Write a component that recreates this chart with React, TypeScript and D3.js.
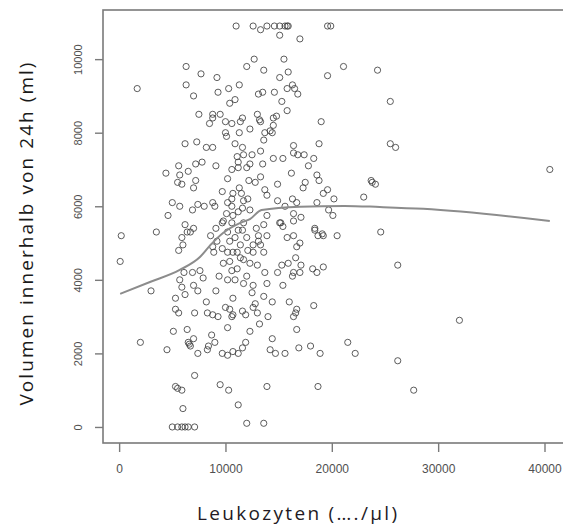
import * as d3 from 'd3';
import * as React from 'react';

const { useRef, useEffect } = React;

const width = 563;
const height = 526;
const plot = { left: 103, right: 567, top: 10, bottom: 443 };

// [Leukozyten (/µl), Volumen in 24h (ml)]
const beobachtungen: [number, number][] = [
  // oberer Bereich
  [11000, 10900], [12600, 10900], [13300, 10800], [13900, 10900], [14600, 10900], [15100, 10900],
  [15600, 10900], [15800, 10900], [15900, 10900], [19600, 10900], [19900, 10900],
  [15100, 10650], [17000, 10550],
  [1700, 9200], [6300, 9800], [7700, 9600], [9200, 9500], [6300, 9300], [7000, 9000], [9300, 9100],
  [10300, 9200], [11300, 9300], [12000, 9800], [10400, 8800], [10900, 8900],
  [7500, 8500], [8800, 8500], [9500, 8500], [8500, 8250], [8800, 8400], [10000, 8300], [10600, 8250],
  [11600, 8400], [11400, 8300], [13000, 8500], [13300, 8300], [13200, 8350], [14500, 8400], [14500, 8200],
  [10000, 8000], [10100, 7900], [11300, 8000], [12300, 8100], [13700, 8000], [14400, 8000],
  [6200, 7700], [7300, 7750], [8200, 7600], [8800, 7600], [10900, 7700], [11600, 7600], [13600, 7800],
  [12700, 10000], [13600, 9700], [15500, 10000], [15900, 9650], [15100, 9500], [19600, 9550],
  [21100, 9800], [24300, 9700],
  [16300, 9300], [15800, 9200], [16500, 9200], [16800, 9050], [13100, 9050], [13500, 9100],
  [14600, 9100], [15300, 8850], [15800, 8600],
  [14800, 8450], [14200, 8050], [19000, 8300], [16400, 7650], [18800, 7700], [25500, 8850],
  [25500, 7700], [26000, 7600],
  // 6000 - 7500
  [11100, 7350], [11700, 7400], [12500, 7400], [11200, 7200], [13500, 7150], [14500, 7300],
  [15400, 7300], [13300, 7500],
  [5600, 7100], [7800, 7200], [7200, 7150], [9100, 7100], [4400, 6900], [5700, 6850], [6500, 6950],
  [10600, 7000], [11200, 7050], [12000, 7050], [10200, 6750], [13300, 6800], [14900, 6600],
  [5500, 6650], [5900, 6600], [7200, 6700], [7000, 6500], [11300, 6500], [10700, 6350], [11500, 6350],
  [12200, 6700], [12800, 6650], [13900, 6300],
  [5000, 6100], [5700, 6000], [6900, 5900], [7400, 6050], [8000, 6000], [8800, 6100], [9000, 6000],
  [10200, 6100], [10100, 5800], [10600, 6000], [11600, 5950], [12300, 5900],
  [4600, 5750], [6200, 5500], [7000, 5400], [9800, 5600], [11200, 5850], [14900, 6150], [15200, 5550],
  [16400, 7450], [16800, 7400], [17400, 7400], [18300, 7300], [17800, 7100], [16200, 6900],
  [18600, 6850], [18800, 6700], [17500, 6650], [17300, 6500], [19200, 6350], [19600, 6450],
  [20200, 6200], [18600, 6100], [16300, 6200], [16700, 6100], [15600, 6000], [19700, 5900],
  [20100, 5750], [16400, 5800], [17100, 5700], [16400, 5600], [23000, 6250], [23700, 6700],
  [24100, 6600], [23800, 6650], [18400, 5400],
  [9700, 6400], [10600, 6200], [11700, 6150], [10700, 5750], [6700, 5300], [10600, 5550],
  [11200, 5350], [11700, 5550], [9200, 5050], [8800, 4900], [10400, 5050], [10900, 5150],
  [11400, 4950], [10700, 4750], [11400, 4600], [12100, 4800], [10600, 4250], [7000, 3850],
  [12300, 7150], [13700, 6450], [12100, 6200], [13900, 5750], [15400, 5450], [13100, 5050], [13600, 4750],
  // 3000 - 5500
  [8600, 5200], [9100, 5400], [9700, 5550], [10200, 5300], [9700, 4850], [8900, 4750], [10200, 4750],
  [10400, 4500], [9800, 4450], [11100, 4750], [11100, 4300], [11700, 4550], [12000, 5150],
  [12600, 4950], [12600, 4750], [13300, 4950], [13000, 4400], [12300, 4450], [13700, 4200],
  [13900, 5200], [13600, 5500], [15100, 5550], [15800, 5150], [15300, 4400], [14900, 4200],
  [12900, 5400], [13100, 5200], [11600, 5350],
  [6400, 5300], [5900, 5150], [5600, 4800], [6000, 4950], [6100, 4200], [6900, 4200], [5700, 4000],
  [7600, 4250], [7900, 4050], [7400, 3700], [5900, 3800], [6200, 3600], [5300, 3500], [5300, 3200],
  [5600, 3100], [7100, 3100], [8200, 3400], [8300, 3100], [8800, 3050], [9300, 3000], [9100, 3700],
  [9400, 4100], [10200, 4000], [10900, 4000], [10700, 3500], [10000, 3250], [10400, 3200],
  [10700, 3050], [10600, 3000], [11600, 3150], [11900, 3050], [12600, 3250], [13000, 3100],
  [12800, 3350], [12500, 3650], [11700, 3900], [12000, 4100], [12600, 3850], [13600, 3550],
  [14000, 3000], [14400, 3400], [13900, 3900], [15400, 3850], [16000, 3400],
  // unterer Bereich
  [10200, 2700], [12300, 2600], [13200, 2800], [11900, 2300], [11600, 2150], [11200, 2000],
  [10700, 2050], [10200, 1950], [9700, 2000], [9000, 2300], [8700, 2500], [8400, 2200], [8300, 2100],
  [7400, 2000], [7000, 2400], [6400, 2650], [6500, 2300], [6700, 2200], [6600, 2250], [5100, 2600],
  [14400, 2400], [14200, 2100], [14700, 2000], [15600, 2000],
  [7100, 1400], [5300, 1100], [5500, 1050], [5900, 1000], [9500, 1150], [10300, 1000], [13900, 1100],
  [6000, 500], [11200, 600], [12000, 100], [13600, 100],
  [5000, 0], [5500, 0], [5900, 0], [6200, 0], [6500, 0], [7100, 0],
  // links
  [200, 5200], [3500, 5300], [100, 4500], [3000, 3700], [2000, 2300], [4500, 2100],
  // rechts
  [24600, 5300], [20500, 5200], [18400, 5350], [19100, 5250], [19200, 5200], [18700, 5200],
  [16400, 5200], [17000, 5000], [16700, 4900], [16600, 4600], [15900, 4450], [17100, 4400],
  [18200, 4300], [18600, 4200], [19200, 4350], [16400, 4200], [17000, 4200], [16300, 4100],
  [26200, 4400], [16700, 3200], [16600, 3100], [16400, 3000], [18300, 3300], [16700, 2650],
  [32000, 2900], [16900, 2150], [18000, 2200], [18900, 2000], [21500, 2300], [22200, 2000],
  [26200, 1800], [18700, 1100], [27700, 1000],
  [40500, 7000],
];

// Glättungskurve (lowess)
const glattX = [100, 2900, 5700, 7600, 8600, 9800, 11400, 12300, 13400, 17000, 21200, 24500, 28600, 40500];
const glattY = [3620, 3940, 4270, 4620, 4950, 5280, 5550, 5650, 5900, 5990, 6010, 5980, 5930, 5600];

const xTicks = [0, 10000, 20000, 30000, 40000];
const yTicks = [0, 2000, 4000, 6000, 8000, 10000];

const xTitle = 'Leukozyten (…./µl)';
const yTitle = 'Volumen innerhalb von 24h (ml)';

const pad = (ext: [number, number]): [number, number] => {
  const d = (ext[1] - ext[0]) * 0.04;
  return [ext[0] - d, ext[1] + d];
};

export default () => {
  const rootRef = useRef<SVGSVGElement>(null);

  useEffect(() => {
    const rootEl = rootRef.current;
    if (!rootEl) {
      return;
    }

    const svg = d3.select(rootEl);
    svg.selectAll('*').remove();

    const x = d3
      .scaleLinear()
      .domain(pad(d3.extent(beobachtungen, d => d[0]) as [number, number]))
      .range([plot.left, plot.right]);

    const y = d3
      .scaleLinear()
      .domain(pad(d3.extent(beobachtungen, d => d[1]) as [number, number]))
      .range([plot.bottom, plot.top]);

    // points
    svg
      .append('g')
      .attr('fill', 'none')
      .attr('stroke', '#404040')
      .attr('stroke-width', 0.85)
      .selectAll('circle')
      .data(beobachtungen)
      .join('circle')
      .attr('cx', d => x(d[0]))
      .attr('cy', d => y(d[1]))
      .attr('r', 3.1);

    // smoother
    const line = d3
      .line<number>()
      .x((d, i) => x(glattX[i]))
      .y(d => y(d))
      .curve(d3.curveMonotoneX);

    svg
      .append('path')
      .attr('fill', 'none')
      .attr('stroke', '#8c8c8c')
      .attr('stroke-width', 2)
      .attr('d', line(glattY));

    // box
    svg
      .append('rect')
      .attr('x', plot.left)
      .attr('y', plot.top)
      .attr('width', plot.right - plot.left)
      .attr('height', plot.bottom - plot.top)
      .attr('fill', 'none')
      .attr('stroke', '#7a7a7a')
      .attr('stroke-width', 1.6);

    const styleAxis = (g: d3.Selection<any, any, any, any>) => {
      g.select('.domain').remove();
      g.selectAll('.tick line').attr('stroke', '#7a7a7a').attr('stroke-width', 1.4);
      g.selectAll('.tick text')
        .attr('fill', '#505050')
        .style('font-family', '"Liberation Sans", Arial, sans-serif')
        .style('font-size', '12px');
    };

    svg
      .append('g')
      .attr('transform', `translate(0,${plot.bottom})`)
      .call(d3.axisBottom(x).tickValues(xTicks).tickFormat(d3.format('d')).tickSize(9))
      .call(styleAxis)
      .call(g => g.selectAll('.tick text').attr('y', 30).attr('dy', 0));

    svg
      .append('g')
      .attr('transform', `translate(${plot.left},0)`)
      .call(d3.axisLeft(y).tickValues(yTicks).tickFormat(d3.format('d')).tickSize(8))
      .call(styleAxis)
      .call(g =>
        g
          .selectAll('.tick text')
          .attr('x', 0)
          .attr('dy', 0)
          .attr('text-anchor', 'middle')
          .style('font-size', '11px')
          .attr('transform', 'translate(-21,0) rotate(-90)'),
      );

    // titles
    svg
      .append('text')
      .attr('x', 297)
      .attr('y', 520)
      .attr('text-anchor', 'middle')
      .attr('textLength', 200)
      .attr('lengthAdjust', 'spacing')
      .attr('fill', '#231a24')
      .style('font-family', '"Open Sans", Lato, sans-serif')
      .style('font-size', '19px')
      .text(xTitle);

    svg
      .append('text')
      .attr('transform', 'translate(33,234) rotate(-90)')
      .attr('text-anchor', 'middle')
      .attr('textLength', 343)
      .attr('lengthAdjust', 'spacing')
      .attr('fill', '#1a1a1a')
      .style('font-family', '"Open Sans", Lato, sans-serif')
      .style('font-size', '19px')
      .text(yTitle);
  }, []);

  return (
    <svg
      ref={rootRef}
      width={width}
      height={height}
      style={{ position: 'absolute', left: 0, top: 0, background: '#fff' }}
    />
  );
};
